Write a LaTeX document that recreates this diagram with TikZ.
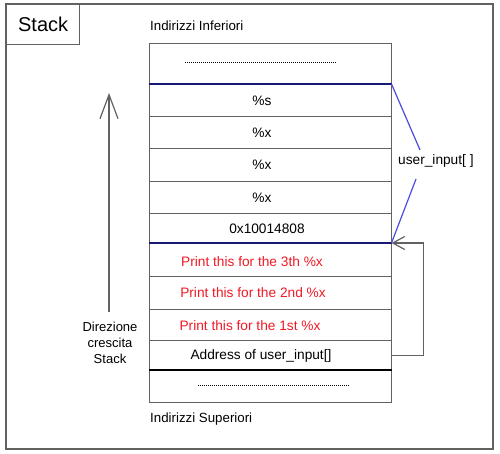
\documentclass[tikz,border=0pt]{standalone}
\usepackage{fontspec}
\setmainfont{Liberation Sans}
\usetikzlibrary{arrows.meta,positioning}
\definecolor{framegray}{rgb}{0.38,0.38,0.38}
\definecolor{navyline}{rgb}{0.1,0.1,0.45}
\definecolor{blueline}{rgb}{0.3,0.3,0.88}
\definecolor{printred}{rgb}{0.95,0.1,0.15}

\begin{document}
\begin{tikzpicture}[x=1pt,y=-1pt,
    cell/.style={draw=framegray,line width=1pt,minimum width=242pt,anchor=north,inner sep=0},
    txt/.style={font=\fontsize{13.7}{16}\selectfont,inner sep=0}]
      \useasboundingbox[fill=white] (0,0) rectangle (500,454);
      % outer frame and title box
      \draw[framegray,line width=1.3pt] (6,4) rectangle (493,449);
      \node[draw=framegray,line width=1.3pt,anchor=north west,minimum width=73pt,minimum height=40pt,inner sep=0] (title) at (6,4) {};
      \node[font=\fontsize{20}{22}\selectfont,inner sep=0] at (title.center) {Stack};
      % the stack cells
      \node[cell,minimum height=41pt] (c0) at (270,43) {};
      \node[cell,minimum height=32.5pt] (c1) at (270,84) {};
      \node[cell,minimum height=31.5pt] (c2) at (270,116.5) {};
      \node[cell,minimum height=33pt] (c3) at (270,148) {};
      \node[cell,minimum height=32pt] (c4) at (270,181) {};
      \node[cell,minimum height=30pt] (c5) at (270,213) {};
      \node[cell,minimum height=33pt] (c6) at (270,243) {};
      \node[cell,minimum height=32.5pt] (c7) at (270,276) {};
      \node[cell,minimum height=31.5pt] (c8) at (270,308.5) {};
      \node[cell,minimum height=30pt] (c9) at (270,340) {};
      \node[cell,minimum height=32pt] (c10) at (270,370) {};
      % separators that stand out
      \draw[navyline,line width=1.8pt] (c1.north west) -- (c1.north east);
      \draw[navyline,line width=1.3pt] (c6.north west) -- (c6.north east);
      \draw[line width=1.8pt] (c10.north west) -- (c10.north east);
      % cell contents
      \draw[line width=0.6pt,dotted,dash pattern=on 0.6pt off 1.4pt] (185,62) -- (336,62);
      \node[txt] at ([xshift=-8pt]c1.center) {\%s};
      \node[txt] at ([xshift=-8pt]c2.center) {\%x};
      \node[txt] at ([xshift=-8pt]c3.center) {\%x};
      \node[txt] at ([xshift=-8pt]c4.center) {\%x};
      \node[txt] at ([xshift=-3pt]c5.center) {0x10014808};
      \node[txt,printred] at ([xshift=-18pt,yshift=-2pt]c6.center) {Print this for the 3th \%x};
      \node[txt,printred] at ([xshift=-17pt]c7.center) {Print this for the 2nd \%x};
      \node[txt,printred] at ([xshift=-20pt,yshift=-1pt]c8.center) {Print this for the 1st \%x};
      \node[txt] at ([xshift=-9pt]c9.center) {Address of user\_input[]};
      \draw[line width=0.6pt,dotted,dash pattern=on 0.6pt off 1.4pt] (198,385) -- (349,385);
      % address labels
      \node[txt,anchor=west,font=\fontsize{13.3}{15}\selectfont] (low) at (150,26) {Indirizzi Inferiori};
      \node[txt,anchor=west,font=\fontsize{13.3}{15}\selectfont] (high) at (150,419) {Indirizzi Superiori};
      % growth direction
      \node[txt,align=center,font=\fontsize{13}{16}\selectfont] (dir) at (110,343) {Direzione\\crescita\\Stack};
      \coordinate (top) at (109,93);
      \draw[framegray,line width=1.2pt,-{Straight Barb[length=24pt,width=18pt]}] (109,312) -- (top);
      % user_input[ ] range
      \node[txt,anchor=west] (ui) at (398,161) {user\_input[ ]};
      \coordinate (b1) at (420,150);
      \coordinate (b2) at (416,179);
      \draw[blueline,line width=1.2pt] (c1.north east) -- (b1);
      \draw[blueline,line width=1.2pt] (b2) -- (c6.north east);
      % pointer back to the buffer
      \draw[framegray,line width=1.2pt,-{Straight Barb[length=12pt,width=13pt]}] (c9.east) -- ++(32,0) |- (c6.north east);
    \end{tikzpicture}
\end{document}
